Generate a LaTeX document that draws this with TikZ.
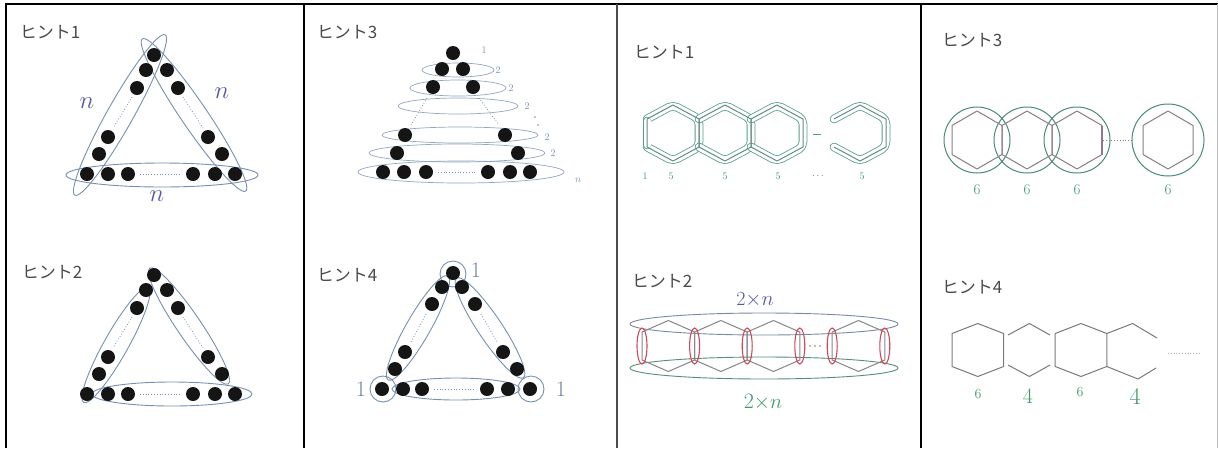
\documentclass[tikz,border=0pt]{standalone}
\usepackage{fontspec}
\newfontfamily\jpfont{Noto Sans CJK JP}
\definecolor{lblgray}{HTML}{4A4A4A}
\definecolor{ellblue}{HTML}{7890B0}
\definecolor{nblue}{HTML}{5558A8}
\definecolor{bandgreen}{HTML}{4FA088}
\definecolor{hexgray}{HTML}{7A7A7A}
\definecolor{redc}{HTML}{D2485A}
\definecolor{grn}{HTML}{3E9A6A}
\definecolor{circgreen}{HTML}{4A8C74}
\definecolor{hexmauve}{HTML}{8A7C88}
\definecolor{dotc}{HTML}{151515}
% hexagon paths: #1 cx, #2 cy, #3 half width, #4 half side, #5 half height
\newcommand\hexfull[5]{(#1-#3,#2-#4) -- (#1,#2-#5) -- (#1+#3,#2-#4) -- (#1+#3,#2+#4) -- (#1,#2+#5) -- (#1-#3,#2+#4) -- cycle}
\newcommand\hexopen[5]{(#1-#3,#2-#4) -- (#1,#2-#5) -- (#1+#3,#2-#4) -- (#1+#3,#2+#4) -- (#1,#2+#5) -- (#1-#3,#2+#4)}
\begin{document}
\begin{tikzpicture}[x=1pt,y=-1pt,
  hint/.style={font=\jpfont\fontsize{17}{20}\selectfont, text=lblgray, inner sep=0pt},
  ell/.style={draw=ellblue, line width=0.9pt},
  ellthin/.style={draw=ellblue!80, line width=0.7pt},
  nlab/.style={font=\fontsize{30}{30}\selectfont, text=nblue, inner sep=0pt},
  smalllab/.style={font=\fontsize{10}{10}\selectfont, text=ellblue, inner sep=0pt},
  onelab/.style={font=\fontsize{22}{22}\selectfont, text=ellblue!90!black, inner sep=0pt},
  dotline/.style={draw=ellblue, line width=0.8pt, dotted},
  band/.style={draw=bandgreen, line width=0.8pt, double=white, double distance=7pt, line cap=round, line join=round, rounded corners=5pt},
  hexline/.style={draw=hexgray, line width=1pt, line join=round},
  glab/.style={text=grn, inner sep=0pt},
  redell/.style={draw=redc, line width=1.1pt},
]
\useasboundingbox (0,0) rectangle (1218,448);
\fill[white] (0,0) rectangle (1218,448);
% ---------------- frame
\draw[line width=2.5pt] (6,448) -- (6,4) -- (1218,4);
\draw[line width=2.5pt] (304,4) -- (304,448);
\draw[line width=2.5pt, black!70] (617,4) -- (617,448);
\draw[line width=2.5pt] (921,4) -- (921,448);
\draw[line width=0.8pt, black!25] (1217,4) -- (1217,448);

% ================= Panel 1 : hint 1
\node[hint] (p1h1) at (50,32) {ヒント1};
\draw[ell, rotate around={60.6:(120,115)}] (120,115) ellipse [x radius=92pt, y radius=13pt];
\draw[ell, rotate around={124.2:(194,115)}] (194,115) ellipse [x radius=92pt, y radius=13pt];
\draw[ell] (162,175) ellipse [x radius=96pt, y radius=12pt];
\foreach \x/\y in {154/55,146/70,137/88,108/137,99/154,167/70,178/88,208/137,222/154,87/174,108/174,128/174,193/174,215/174,235/174}
  \fill[dotc] (\x,\y) circle[radius=7pt];
\draw[dotline] (132,97) -- (113,128);
\draw[dotline] (183,97) -- (203,128);
\draw[dotline] (140,174) -- (182,174);
\node[nlab] (n1) at (87,103) {$n$};
\node[nlab] (n2) at (222,93) {$n$};
\node[nlab] (n3) at (157,196) {$n$};

% ================= Panel 1 : hint 2
\node[hint] (p1h2) at (52,272) {ヒント2};
\begin{scope}[shift={(0,220)}]
\draw[ell, rotate around={60.6:(116,125)}] (116,125) ellipse [x radius=66pt, y radius=12pt];
\draw[ell, rotate around={124.2:(189,106)}] (189,106) ellipse [x radius=70pt, y radius=12pt];
\draw[ell] (172,174) ellipse [x radius=80pt, y radius=12pt];
\foreach \x/\y in {154/55,146/70,137/88,108/137,99/154,167/70,178/88,208/137,222/154,87/174,108/174,128/174,193/174,215/174,235/174}
  \fill[dotc] (\x,\y) circle[radius=7pt];
\draw[dotline] (132,97) -- (113,128);
\draw[dotline] (183,97) -- (203,128);
\draw[dotline] (140,174) -- (182,174);
\end{scope}

% ================= Panel 2 : hint 3
\node[hint] (p2h3) at (347,32) {ヒント3};
\draw[ellthin] (458,70) ellipse [x radius=36pt, y radius=7pt];
\draw[ellthin] (458,88) ellipse [x radius=48pt, y radius=8pt];
\draw[ellthin] (458,106) ellipse [x radius=60pt, y radius=8pt];
\draw[ellthin] (460,135) ellipse [x radius=78pt, y radius=8pt];
\draw[ellthin] (457,153) ellipse [x radius=88pt, y radius=9pt];
\draw[ellthin] (461,172) ellipse [x radius=103pt, y radius=11pt];
\foreach \x/\y in {453/53,442/69,463/69,433/87,473/87,405/135,505/135,397/153,518/153,383/172,404/172,426/172,488/172,510/172,530/172}
  \fill[dotc] (\x,\y) circle[radius=7pt];
\draw[dotline] (427,98) -- (411,125);
\draw[dotline] (479,98) -- (499,125);
\draw[dotline] (438,172) -- (476,172);
\node[smalllab] (t1) at (484,50) {1};
\node[smalllab] (t2) at (498,70) {2};
\node[smalllab] (t3) at (511,88) {2};
\node[smalllab] (t4) at (527,106) {2};
\node[smalllab] (t5) at (547,137) {2};
\node[smalllab] (t6) at (553,153) {2};
\node[smalllab] (t7) at (578,180) {$n$};
\fill[ellblue] (535,117) circle[radius=0.8pt] (538,125) circle[radius=0.8pt];

% ================= Panel 2 : hint 4
\node[hint] (p2h4) at (347,275) {ヒント4};
\draw[ell] (453,274) circle[radius=13pt];
\draw[ell] (383,389) circle[radius=13pt];
\draw[ell] (531,389) circle[radius=13pt];
\draw[ell, rotate around={60.2:(418,328)}] (418,328) ellipse [x radius=60pt, y radius=12pt];
\draw[ell, rotate around={123.8:(490,328)}] (490,328) ellipse [x radius=60pt, y radius=12pt];
\draw[ell] (456,389) ellipse [x radius=64pt, y radius=11pt];
\foreach \x/\y in {453/273,442/287,462/287,432/304,475/304,405/352,503/352,395/369,517/369,382/389,403/389,422/389,487/389,508/389,530/389}
  \fill[dotc] (\x,\y) circle[radius=7pt];
\draw[dotline] (426,314) -- (411,342);
\draw[dotline] (481,314) -- (497,342);
\draw[dotline] (434,389) -- (475,389);
\node[onelab] (o1) at (476,270) {1};
\node[onelab] (o2) at (361,389) {1};
\node[onelab] (o3) at (561,389) {1};

% ================= Panel 3 : hint 1
\node[hint] (p3h1) at (664,52) {ヒント1};
\foreach \c in {673,725,777,860}
  \draw[band] \hexopen{\c}{133}{26}{14}{28};
\draw[band] (647,121) -- (647,145);
\foreach \c in {673,725,777}
  \draw[hexline, draw=bandgreen!45!hexgray] \hexfull{\c}{133}{26}{14}{28};
\draw[hexline, draw=bandgreen!45!hexgray] \hexopen{860}{133}{26}{14}{28};
\draw[bandgreen, line width=1pt] (813,134) -- (821,134);
\begin{scope}[font=\fontsize{10}{10}\selectfont]
\node[glab] (l1) at (645,176) {1};
\node[glab] (l2) at (671,176) {5};
\node[glab] (l3) at (725,176) {5};
\node[glab] (l4) at (778,176) {5};
\node[glab] (l5) at (818,176) {$\cdots$};
\node[glab] (l6) at (862,176) {5};
\end{scope}

% ================= Panel 3 : hint 2
\node[hint] (p3h2) at (662,281) {ヒント2};
\draw[draw=ellblue!70!gray, line width=0.9pt] (764,324) ellipse [x radius=134pt, y radius=11pt];
\draw[draw=grn!60!gray, line width=0.9pt] (764,368) ellipse [x radius=134pt, y radius=11pt];
\foreach \c in {668.3,720.9,773.5,858.5}
  \draw[hexline, draw=hexgray!90] \hexfull{\c}{346}{26.3}{14}{25.5};
\foreach \x in {642,694.6,747.2,799.8,832.2,884.8}
  \draw[redell] (\x,346) ellipse [x radius=5pt, y radius=18pt];
\fill[hexgray] (810,346) circle[radius=0.8pt] (815,346) circle[radius=0.8pt] (820,346) circle[radius=0.8pt];
\node[font=\fontsize{20}{20}\selectfont, text=nblue, inner sep=0pt] (tn) at (755,300) {2$\times$$n$};
\node[font=\fontsize{22}{22}\selectfont, text=grn, inner sep=0pt] (bn) at (763,402) {2$\times$$n$};

% ================= Panel 4 : hint 3
\node[hint] (p4h3) at (972,40) {ヒント3};
\foreach \c in {977,1027,1077}
  \draw[circgreen, line width=1pt] (\c,140) circle[radius=33pt];
\draw[circgreen, line width=1pt] (1168,140) circle[radius=36pt];
\foreach \c in {977,1027,1077,1168}
  \draw[hexline, draw=hexmauve] \hexfull{\c}{140}{25}{14.5}{29};
\draw[hexmauve, line width=1.6pt] (1102,125.5) -- (1102,154.5);
\draw[hexmauve, line width=0.8pt, dotted] (1103,140) -- (1133,140);
\begin{scope}[font=\fontsize{15}{15}\selectfont]
\node[glab] (s1) at (977,190) {6};
\node[glab] (s2) at (1027,190) {6};
\node[glab] (s3) at (1077,190) {6};
\node[glab] (s4) at (1168,190) {6};
\end{scope}

% ================= Panel 4 : hint 4
\node[hint] (p4h4) at (972,287) {ヒント4};
\draw[hexline] \hexfull{977.8}{350}{25.8}{16.5}{26.5};
\draw[hexline] \hexfull{1081}{350}{25.8}{16.5}{26.5};
% open hex between
\draw[hexline] (1008,335) -- (1029.4,323.5) -- (1050,335);
\draw[hexline] (1008,365) -- (1029.4,376.5) -- (1050,365);
% last partial hex
\draw[hexline] (1106.8,333.5) -- (1132.6,323.5) -- (1157,338);
\draw[hexline] (1106.8,366.5) -- (1138,379) -- (1156,368);
\draw[hexgray!60, line width=0.8pt, dotted] (1168,353) -- (1200,353);
\node[glab, font=\fontsize{14}{14}\selectfont] (f1) at (978,394) {6};
\node[glab, font=\fontsize{22}{22}\selectfont] (f2) at (1028,396) {4};
\node[glab, font=\fontsize{14}{14}\selectfont] (f3) at (1080,392) {6};
\node[glab, font=\fontsize{24}{24}\selectfont] (f4) at (1135,396) {4};
\end{tikzpicture}
\end{document}
